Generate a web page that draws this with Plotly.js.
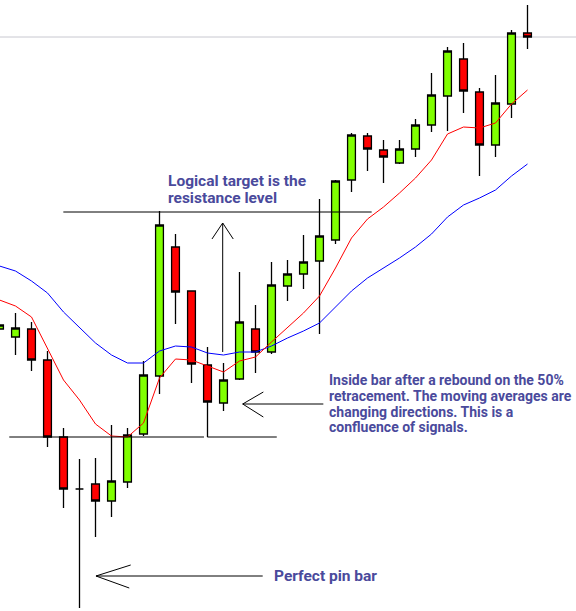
<!DOCTYPE html>
<html>
<head>
<meta charset="utf-8">
<script src="https://cdn.plot.ly/plotly-3.0.1.min.js"></script>
<style>html,body{margin:0;padding:0;background:#fff;}#chart{width:576px;height:611px;}</style>
</head>
<body>
<div id="chart"></div>
<script>
// Bar numbers (one per candle)
const bars = [0,1,2,3,4,5,6,7,8,9,10,11,12,13,14,15,16,17,18,19,20,21,22,23,24,25,26,27,28,29,30,31,32,33];
// OHLC
const open  = [1.2282,1.2274,1.2282,1.2251,1.2174,1.2122,1.2127,1.2110,1.2129,1.2177,1.2235,1.2364,1.2320,1.2246,1.2208,1.2232,1.2282,1.2259,1.2325,1.2337,1.2350,1.2371,1.2431,1.2475,1.2461,1.2448,1.2462,1.2486,1.2515,1.2552,1.2519,1.2466,1.2507,1.2578];
const high  = [1.2286,1.2298,1.2289,1.2260,1.2183,1.2152,1.2153,1.2186,1.2183,1.2250,1.2400,1.2377,1.2320,1.2264,1.2248,1.2339,1.2306,1.2349,1.2351,1.2376,1.2412,1.2431,1.2478,1.2478,1.2471,1.2471,1.2492,1.2538,1.2564,1.2568,1.2523,1.2536,1.2581,1.2606];
const low   = [1.2282,1.2256,1.2240,1.2164,1.2103,1.2003,1.2074,1.2094,1.2123,1.2175,1.2217,1.2287,1.2228,1.2174,1.2200,1.2231,1.2238,1.2257,1.2310,1.2322,1.2277,1.2367,1.2419,1.2440,1.2428,1.2447,1.2454,1.2479,1.2480,1.2498,1.2435,1.2454,1.2493,1.2562];
const close = [1.2286,1.2283,1.2251,1.2174,1.2122,1.2122,1.2110,1.2130,1.2176,1.2236,1.2386,1.2319,1.2247,1.2209,1.2231,1.2289,1.2259,1.2326,1.2337,1.2349,1.2375,1.2430,1.2476,1.2462,1.2454,1.2462,1.2486,1.2516,1.2560,1.2520,1.2466,1.2508,1.2578,1.2574];
// Moving averages
const maFast = [1.2311,1.2305,1.2294,1.2263,1.2231,1.2211,1.2187,1.2175,1.2174,1.2188,1.2233,1.2252,1.2251,1.2245,1.2239,1.2250,1.2254,1.2269,1.2284,1.2298,1.2315,1.2343,1.2373,1.2392,1.2404,1.2418,1.2433,1.2451,1.2477,1.2484,1.2483,1.2488,1.2507,1.2521];
const maSlow = [1.2345,1.2340,1.2330,1.2318,1.2299,1.2283,1.2268,1.2256,1.2248,1.2248,1.2260,1.2265,1.2264,1.2258,1.2256,1.2259,1.2259,1.2265,1.2273,1.2280,1.2288,1.2304,1.2320,1.2333,1.2343,1.2353,1.2364,1.2377,1.2394,1.2406,1.2413,1.2421,1.2435,1.2447];
// Key levels
const resistanceLevel = 1.2399;
const supportLevel = 1.2174;
const lastPrice = 1.2574;

const textColor = '#4a4a9c';
function txtFont(size){ return {family: 'Roboto, "Liberation Sans", Arial, sans-serif', size: size, color: textColor, weight: 'bold'}; }

const traces = [
  {type:'scatter', mode:'lines', x: bars, y: maSlow, line:{color:'#0000ff', width:1}, hoverinfo:'skip'},
  {type:'scatter', mode:'lines', x: bars, y: maFast, line:{color:'#ff0000', width:1}, hoverinfo:'skip'},
  {type:'candlestick', x: bars, open: open, high: high, low: low, close: close,
   increasing:{fillcolor:'#80ff00', line:{color:'#000000', width:1.3}},
   decreasing:{fillcolor:'#ff0000', line:{color:'#000000', width:1.3}},
   whiskerwidth:0, hoverinfo:'skip'}
];

const blk = {color:'#000000', width:1};
const shapes = [
  {type:'line', xref:'paper', x0:0, x1:1, yref:'y', y0:lastPrice, y1:lastPrice, line:{color:'#c8c8d0', width:1}, layer:'below'},
  {type:'line', xref:'x', yref:'y', x0:3.99, x1:23.26, y0:resistanceLevel, y1:resistanceLevel, line:blk},
  {type:'line', xref:'x', yref:'y', x0:0.61, x1:12.78, y0:supportLevel, y1:supportLevel, line:blk},
  {type:'line', xref:'x', yref:'y', x0:12.99, x1:17.33, y0:supportLevel, y1:supportLevel, line:blk},
  // up arrow
  {type:'line', xref:'x', yref:'y', x0:13.95, x1:13.95, y0:1.2259, y1:1.2388, line:blk},
  {type:'path', xref:'x', yref:'y', path:'M 13.28 1.2372 L 13.95 1.2388 L 14.61 1.2372', line:blk},
  // inside bar arrow
  {type:'line', xref:'x', yref:'y', x0:15.2, x1:20.24, y0:1.2207, y1:1.2207, line:blk},
  {type:'path', xref:'x', yref:'y', path:'M 16.49 1.2219 L 15.2 1.2207 L 16.49 1.2194', line:blk},
  // pin bar arrow
  {type:'line', xref:'x', yref:'y', x0:6.03, x1:16.45, y0:1.2035, y1:1.2035, line:blk},
  {type:'path', xref:'x', yref:'y', path:'M 8.2 1.2046 L 6.03 1.2035 L 8.11 1.2023', line:blk}
];

function note(text, xpx, ypx, size){
  return {text:text, xref:'paper', yref:'paper', x:xpx/576, y:1-ypx/611, xanchor:'left', yanchor:'middle',
          showarrow:false, align:'left', font:txtFont(size)};
}
const annotations = [
  note('Logical target is the', 165.5, 181, 15.5),
  note('resistance level', 165.5, 197.5, 15.5),
  note('Inside bar after a rebound on the 50%', 327, 380, 14),
  note('retracement. The moving averages are', 327, 396, 14),
  note('changing directions. This is a', 327, 411.7, 14),
  note('confluence of signals.', 327, 427.3, 14),
  note('Perfect pin bar', 272, 576, 15.5)
];

const layout = {
  width:576, height:611, margin:{l:0,r:0,t:0,b:0,pad:0},
  paper_bgcolor:'#ffffff', plot_bgcolor:'#ffffff', showlegend:false, hovermode:false,
  xaxis:{visible:false, range:[0.03125, 36.03125], rangeslider:{visible:false}, fixedrange:true},
  yaxis:{visible:false, range:[1.2000, 1.2611], fixedrange:true},
  shapes:shapes, annotations:annotations
};
Plotly.newPlot('chart', traces, layout, {displayModeBar:false, staticPlot:true});
</script>
</body>
</html>
